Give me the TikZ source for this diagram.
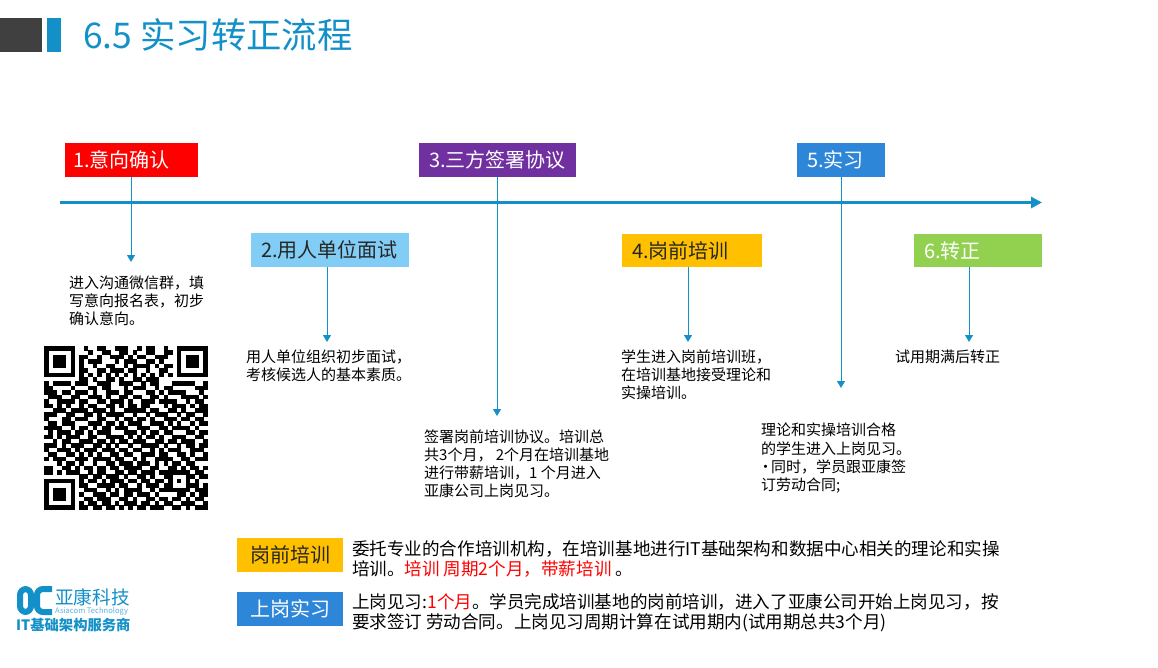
\documentclass[tikz,border=0pt]{standalone}
\usepackage{fontspec}
\setmainfont{Noto Sans CJK SC}
\usetikzlibrary{arrows.meta}

\definecolor{brandblue}{HTML}{1490C8}
\definecolor{darkblock}{HTML}{404040}
\definecolor{stepred}{HTML}{FF0000}
\definecolor{steppurple}{HTML}{7030A0}
\definecolor{stepblue}{HTML}{2E86D8}
\definecolor{stepsky}{HTML}{82CDF5}
\definecolor{stepamber}{HTML}{FFC000}
\definecolor{stepgreen}{HTML}{92D050}
\definecolor{inkdark}{HTML}{262626}

% QR code, one string per row
\newcount\qrrow
\newcount\qrcol
\def\qrline#1{\qrcol=0 \qrscan#1\relax\advance\qrrow by 1 }
\def\qrscan#1{\ifx#1\relax\else\if#11 \fill[black] ({44+\the\qrcol*4.43},{346+\the\qrrow*4.43}) rectangle +(4.55,4.55);\fi\advance\qrcol by 1 \expandafter\qrscan\fi}

\begin{document}
\begin{tikzpicture}[
    x=1pt, y=-1pt,
    stepbox/.style={
        rectangle,
        inner sep=0pt,
        text=white,
        font=\fontsize{20}{24}\selectfont
    },
    boxlabel/.style={
        anchor=west,
        inner sep=0pt,
        font=\fontsize{20}{24}\selectfont
    },
    note/.style={
        anchor=north west,
        align=left,
        inner sep=0pt,
        text=black,
        font=\fontsize{15}{18.2}\selectfont
    },
    detail/.style={
        anchor=north west,
        align=left,
        inner sep=0pt,
        text=black,
        font=\fontsize{17.55}{20}\selectfont
    },
    arrow/.style={
        -{Triangle[length=7pt,width=8pt]},
        line width=1pt,
        brandblue
    }
]
\useasboundingbox (0,0) rectangle (1158,668);

% Title
\fill[darkblock] (0,18) rectangle (42,52);
\fill[brandblue] (47,18) rectangle (61,52);
\node[anchor=west, inner sep=0pt, text=brandblue, font=\fontsize{35.4}{40}\selectfont] (title) at (83,34.5) {6.5 实习转正流程};

% Timeline
\coordinate (axisstart) at (60,202.5);
\coordinate (axisend) at (1042,202.5);
\draw[-{Triangle[length=11pt,width=11pt]}, line width=3pt, brandblue] (axisstart) -- (axisend);

% Steps
\node[stepbox, fill=stepred, minimum width=133pt, minimum height=34pt] (stepone) at (131.5,160) {};
\node[boxlabel, text=white] (stepone text) at (73,160) {1.意向确认};
\node[stepbox, fill=stepsky, minimum width=158pt, minimum height=34pt] (steptwo) at (330,250) {};
\node[boxlabel, text=inkdark] (steptwo text) at (261,250) {2.用人单位面试};
\node[stepbox, fill=steppurple, minimum width=157pt, minimum height=34pt] (stepthree) at (497.5,160) {};
\node[boxlabel, text=white] (stepthree text) at (429,160) {3.三方签署协议};
\node[stepbox, fill=stepamber, minimum width=140pt, minimum height=33pt] (stepfour) at (692,250.5) {};
\node[boxlabel, text=inkdark] (stepfour text) at (632,250.5) {4.岗前培训};
\node[stepbox, fill=stepblue, minimum width=88pt, minimum height=34pt] (stepfive) at (841,160) {};
\node[boxlabel, text=white] (stepfive text) at (807,160) {5.实习};
\node[stepbox, fill=stepgreen, minimum width=128pt, minimum height=33pt] (stepsix) at (978,250.5) {};
\node[boxlabel, text=white] (stepsix text) at (924,250.5) {6.转正};

% Arrow ends
\coordinate (tipone) at (131,262);
\coordinate (tiptwo) at (327,342);
\coordinate (tipthree) at (497,416);
\coordinate (tipfour) at (688,342);
\coordinate (tipfive) at (841,388);
\coordinate (tipsix) at (969,342);

\draw[arrow] (stepone.south -| tipone) -- (tipone);
\draw[arrow] (steptwo.south -| tiptwo) -- (tiptwo);
\draw[arrow] (stepthree.south -| tipthree) -- (tipthree);
\draw[arrow] (stepfour.south -| tipfour) -- (tipfour);
\draw[arrow] (stepfive.south -| tipfive) -- (tipfive);
\draw[arrow] (stepsix.south -| tipsix) -- (tipsix);

% Notes
\node[note] (noteone) at (69,275.5) {进入沟通微信群，填\\写意向报名表，初步\\确认意向。};
\node[note] (notetwo) at (246,349.5) {用人单位组织初步面试，\\考核候选人的基本素质。};
\node[note] (notethree) at (424,429.5) {签署岗前培训协议。培训总\\共3个月， 2个月在培训基地\\进行带薪培训，1 个月进入\\亚康公司上岗见习。};
\node[note] (notefour) at (621,349.5) {学生进入岗前培训班，\\在培训基地接受理论和\\实操培训。};
\node[note] (notefive) at (761,423) {理论和实操培训合格\\的学生进入上岗见习。\\\makebox[10pt][l]{\hspace{-3pt}•}同时，学员跟亚康签\\订劳动合同;};
\node[note] (notesix) at (895,349.5) {试用期满后转正};

% QR code
\qrrow=0
\qrline{1111111 0 010011001110010110010 0 1111111}
\qrline{1000001 0 001001100110100110011 0 1000001}
\qrline{1011101 0 110010011101011001110 0 1011101}
\qrline{1011101 0 101110001011100110100 0 1011101}
\qrline{1011101 0 100100110010111101011 0 1011101}
\qrline{1000001 0 110011011101100100110 0 1000001}
\qrline{1111111 0 101010101010101010101 0 1111111}
\qrline{0000000 0 110100110100110111000 0 0000000}
\qrline{1011110111 0011100111 0010110001 1111001}
\qrline{1100001000 1101100010 1110010110 0000111}
\qrline{1110110111 0100111011 0001101011 1100010}
\qrline{0111001100 1110100110 1100110100 0111101}
\qrline{1001111011 0011011101 0011101111 0010110}
\qrline{1101010010 1100110101 1011000101 1101011}
\qrline{0011101111 0111010011 1110110011 0100111}
\qrline{1110011001 1010111100 1001011100 1011001}
\qrline{1000110111 0011001011 0110100111 0110110}
\qrline{0110111000 1110110101 1100111010 1001011}
\qrline{1111001011 0101101110 0111001101 1110100}
\qrline{0101110110 1011100011 1010110110 0011011}
\qrline{1101011100 1100111101 0101101001 1100110}
\qrline{0010110011 1011010110 1110011011 0111001}
\qrline{1110101110 0110101001 0011110100 1011011}
\qrline{1001110101 1101110110 1100101011 1001110}
\qrline{0110011010 1010011011 0011101100 1101001}
\qrline{1011100111 0111101100 1010011110 0110111}
\qrline{0001011010 0100110111 0111010101 1011000}
\qrline{1100110101 1011011011 1100110011 0101101}
\qrline{1101011100 1011001101 10111011 11111 0110}
\qrline{0000000011 0110111010 01101001 10001 1011}
\qrline{1111111010 1101011101 10110110 10101 0100}
\qrline{1000001011 0011110110 01011101 10001 1101}
\qrline{1011101001 1100101011 11001011 11111 0111}
\qrline{1011101010 0111011011 01110100 001101011}
\qrline{1011101001 1011100110 10011011 011010110}
\qrline{1000001010 1101101011 10110101 100111001}
\qrline{1111111011 0110110101 01101110 011010111}

% Details
\node[stepbox, fill=stepamber, text=inkdark, minimum width=106pt, minimum height=34pt] (pretrain) at (290,555) {岗前培训};
\node[detail] (pretrain text) at (352,540.5) {委托专业的合作培训机构，在培训基地进行IT基础架构和数据中心相关的理论和实操\\培训。\textcolor{red}{培训 周期2个月，带薪培训 }。};
\node[stepbox, fill=stepblue, minimum width=106pt, minimum height=34pt] (intern) at (290,609) {上岗实习};
\node[detail] (intern text) at (352,593.5) {上岗见习:\textcolor{red}{1个月}。学员完成培训基地的岗前培训，进入了亚康公司开始上岗见习，按\\要求签订 劳动合同。上岗见习周期计算在试用期内(试用期总共3个月)};

% Logo
\draw[brandblue, line width=6pt, rounded corners=6pt] (20,589) rectangle (31,612);
\draw[brandblue, line width=6pt, rounded corners=6pt] (52,589) -- (37,589) -- (37,612) -- (52,612);
\node[anchor=west, inner sep=0pt, text=brandblue, font=\fontsize{18.6}{22}\selectfont] (logoname) at (55,597) {亚康科技};
\node[anchor=west, inner sep=0pt, text=brandblue!70, font=\fontsize{7.6}{9}\selectfont] (logoen) at (55,611) {Asiacom Technology};
\node[anchor=west, inner sep=0pt, text=brandblue, font=\bfseries\fontsize{14.3}{17}\selectfont] (logoslogan) at (16,625) {IT基础架构服务商};

\end{tikzpicture}
\end{document}
